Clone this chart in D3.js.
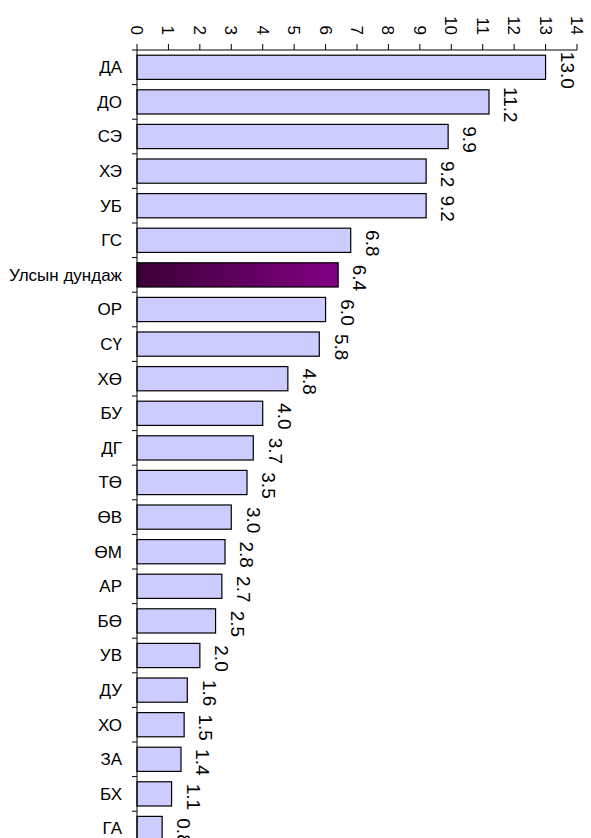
<!DOCTYPE html>
<head>
  <meta charset="utf-8">
  <script src="https://d3js.org/d3.v7.min.js"></script>
  <style>
    body { margin:0; background:#fff; }
    text { font-family: "Liberation Sans", Arial, sans-serif; fill:#000; }
  </style>
</head>
<body>
  <script>
    var width = 591, height = 838;

    // data
    var regions = ["ДА","ДО","СЭ","ХЭ","УБ","ГС","Улсын дундаж","ОР","СҮ","ХӨ","БУ","ДГ","ТӨ","ӨВ","ӨМ","АР","БӨ","УВ","ДУ","ХО","ЗА","БХ","ГА"];
    var values = [13.0,11.2,9.9,9.2,9.2,6.8,6.4,6.0,5.8,4.8,4.0,3.7,3.5,3.0,2.8,2.7,2.5,2.0,1.6,1.5,1.4,1.1,0.8];
    var xTicks = [0,1,2,3,4,5,6,7,8,9,10,11,12,13,14];
    var average = "Улсын дундаж";

    var data = regions.map(function(r, i) { return {name: r, value: values[i]}; });

    var svg = d3.select("body").append("svg")
      .attr("width", width)
      .attr("height", height);

    var defs = svg.append("defs");
    var grad = defs.append("linearGradient").attr("id", "avgGrad")
      .attr("x1", "0%").attr("x2", "100%").attr("y1", "0%").attr("y2", "0%");
    grad.append("stop").attr("offset", "0%").attr("stop-color", "#3a0036");
    grad.append("stop").attr("offset", "100%").attr("stop-color", "#820082");

    var axisY = 50, step = 34.6;
    var x = d3.scaleLinear().domain([0, 14]).range([137, 577]);
    var y = d3.scaleBand().domain(regions)
      .range([axisY, axisY + step * regions.length])
      .paddingInner(0.3).paddingOuter(0.15);

    // bars
    svg.selectAll("rect.bar").data(data).enter().append("rect")
      .attr("class", "bar")
      .attr("x", x(0))
      .attr("y", function(d) { return y(d.name); })
      .attr("width", function(d) { return x(d.value) - x(0); })
      .attr("height", y.bandwidth())
      .attr("fill", function(d) { return d.name === average ? "url(#avgGrad)" : "#ccccff"; })
      .attr("stroke", "#000")
      .attr("stroke-width", 1.2);

    // top value axis
    var xAxis = svg.append("g");
    xAxis.append("line")
      .attr("x1", x(0)).attr("x2", x(14)).attr("y1", axisY).attr("y2", axisY)
      .attr("stroke", "#000");
    xAxis.selectAll("line.tick").data(xTicks).enter().append("line")
      .attr("x1", function(d) { return x(d); }).attr("x2", function(d) { return x(d); })
      .attr("y1", axisY - 6).attr("y2", axisY)
      .attr("stroke", "#000");
    xAxis.selectAll("text").data(xTicks).enter().append("text")
      .attr("transform", function(d) { return "translate(" + x(d) + ",35)rotate(90)"; })
      .attr("text-anchor", "end")
      .attr("dy", "0.35em")
      .style("font-size", "17px")
      .text(function(d) { return d; });

    // category axis
    var yAxis = svg.append("g");
    yAxis.append("line")
      .attr("x1", x(0)).attr("x2", x(0)).attr("y1", axisY).attr("y2", height)
      .attr("stroke", "#000");
    var bounds = [axisY].concat(regions.map(function(r) { return y(r) + y.bandwidth() + y.step() * 0.15; }));
    yAxis.selectAll("line.tick").data(bounds).enter().append("line")
      .attr("x1", x(0) - 5).attr("x2", x(0))
      .attr("y1", function(d) { return d; }).attr("y2", function(d) { return d; })
      .attr("stroke", "#000");
    yAxis.selectAll("text").data(regions).enter().append("text")
      .attr("x", 122)
      .attr("y", function(d) { return y(d) + y.bandwidth() / 2; })
      .attr("dy", "0.35em")
      .attr("text-anchor", "end")
      .style("font-size", "17px")
      .text(function(d) { return d; });

    // value labels, rotated like the ticks
    svg.selectAll("text.val").data(data).enter().append("text")
      .attr("class", "val")
      .attr("transform", function(d) {
        return "translate(" + (x(d.value) + 22) + "," + (y(d.name) + y.bandwidth() / 2 + 3) + ")rotate(90)";
      })
      .attr("text-anchor", "middle")
      .attr("dy", "0.35em")
      .style("font-size", "19px")
      .text(function(d) { return d.value.toFixed(1); });
  </script>
</body>
</html>
